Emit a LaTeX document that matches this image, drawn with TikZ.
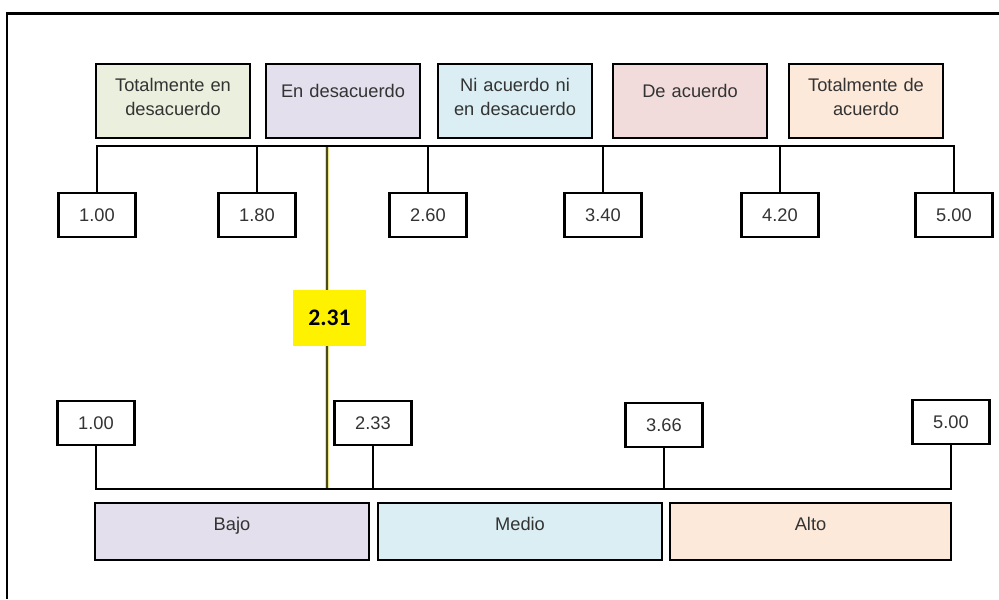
\documentclass[tikz,border=0pt]{standalone}
\usepackage{fontspec}
\setmainfont{Liberation Sans}
\newfontfamily\meanfont{Carlito}
\definecolor{catA}{HTML}{EBF0DE}
\definecolor{catB}{HTML}{E4DFEC}
\definecolor{catC}{HTML}{DAEEF3}
\definecolor{catD}{HTML}{F2DCDB}
\definecolor{catE}{HTML}{FDE9D9}
\definecolor{txtgray}{HTML}{333333}
\definecolor{meanline}{HTML}{4A4A1A}
\definecolor{meanglow}{HTML}{E8E48A}

\begin{document}
\begin{tikzpicture}[x = 0.02cm, y = -0.02cm,
    every node/.style = {text = txtgray, font = \fontsize{10.4}{14.2}\selectfont},
    box/.style = {draw = black, line width = 1.4pt, inner sep = 0pt},
    cat/.style = {box, text width = 3.08cm, align = center,
      text height = 0.54cm, text depth = 0.94cm},
    catone/.style = {cat, text height = 0.66cm, text depth = 0.82cm},
    val/.style = {box, fill = white, minimum width = 1.54cm, minimum height = 0.88cm},
    level/.style = {box, text height = 0.54cm, text depth = 0.6cm},
    bus/.style = {line width = 1.4pt}
  ]
  \useasboundingbox (0, 0) rectangle (999, 599);
  \draw[line width = 1.2pt] (999, 13.5) -- (7, 13.5) -- (7, 599);

  % escala de respuestas
  \node[cat, fill = catA] (c1) at (173, 101) {Totalmente en\\desacuerdo};
  \node[catone, fill = catB] (c2) at (343, 101) {En desacuerdo};
  \node[cat, fill = catC] (c3) at (515, 101) {Ni acuerdo ni\\en desacuerdo};
  \node[catone, fill = catD] (c4) at (690, 101) {De acuerdo};
  \node[cat, fill = catE] (c5) at (866, 101) {Totalmente de\\acuerdo};

  \coordinate (tbus) at (0, 146);
  \foreach \x/\v [count = \i] in {97/1.00, 257/1.80, 428/2.60, 603/3.40, 780/4.20, 954/5.00}{
    \node[val] (v\i) at (\x, 215) {\v};
    \draw[bus] (v\i.north) -- (v\i.north |- tbus);
  }
  \draw[bus, line cap = rect] (v1.north |- tbus) -- (v6.north |- tbus);

  % niveles
  \coordinate (bbus) at (0, 489);
  \foreach \x/\y/\v [count = \i] in {96/423/1.00, 373/423/2.33, 664/425/3.66, 951/422/5.00}{
    \node[val] (w\i) at (\x, \y) {\v};
    \draw[bus] (w\i.south) -- (w\i.south |- bbus);
  }
  \draw[bus, line cap = rect] (w1.south |- bbus) -- (w4.south |- bbus);

  \node[level, fill = catB, minimum width = 5.48cm] (l1) at (232, 531.5) {Bajo};
  \node[level, fill = catC, minimum width = 5.68cm] (l2) at (520, 531.5) {Medio};
  \node[level, fill = catE, minimum width = 5.62cm] (l3) at (810.5, 531.5) {Alto};

  % media obtenida
  \coordinate (m1) at (327, 147);
  \coordinate (m2) at (327, 488);
  \draw[meanglow, line width = 2.6pt] (m1) -- (m2);
  \draw[meanline, line width = 0.9pt] (m1) -- (m2);
  \node[fill = yellow, minimum width = 1.46cm, minimum height = 1.12cm,
    inner sep = 0pt, text = black, font = \meanfont\bfseries\fontsize{13.5}{16}\selectfont]
    (mean) at (329.5, 318) {2.31};
\end{tikzpicture}
\end{document}
